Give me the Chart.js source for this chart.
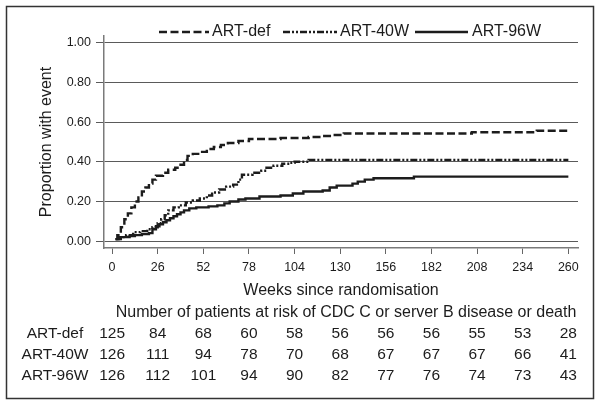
<!DOCTYPE html>
<html>
<head>
<meta charset="utf-8">
<script src="https://cdn.jsdelivr.net/npm/chart.js@4/dist/chart.umd.min.js"></script>
<style>
  html, body { margin: 0; padding: 0; background: #fff; }
  canvas { display: block; }
</style>
</head>
<body>
<canvas id="km" width="601" height="406"></canvas>
<script>
// x ticks (weeks) and y ticks (proportion)
const weekTicks = [0, 26, 52, 78, 104, 130, 156, 182, 208, 234, 260];
const propTicks = [0, 0.2, 0.4, 0.6, 0.8, 1.0];

// step points: week the step happens, new proportion
const defWeeks = [2, 3, 5, 7, 9, 11, 13, 15, 17, 19, 21, 23, 25, 29, 32, 36, 39, 41, 43, 46, 50, 54, 58, 62, 66, 72, 78, 96, 112, 120, 126, 132, 205, 242, 260];
const defProp  = [0.01, 0.03, 0.07, 0.11, 0.14, 0.17, 0.20, 0.22, 0.25, 0.27, 0.29, 0.31, 0.33, 0.345, 0.36, 0.37, 0.385, 0.41, 0.43, 0.44, 0.45, 0.465, 0.475, 0.485, 0.495, 0.505, 0.515, 0.52, 0.525, 0.53, 0.535, 0.543, 0.549, 0.557, 0.557];

const w40Weeks = [2, 4, 8, 12, 16, 20, 23, 26, 28, 30, 32, 35, 38, 42, 46, 50, 54, 57, 61, 65, 69, 72, 74, 80, 85, 88, 92, 97, 101, 104, 112, 260];
const w40Prop  = [0.01, 0.02, 0.03, 0.045, 0.05, 0.06, 0.07, 0.09, 0.11, 0.13, 0.155, 0.17, 0.18, 0.195, 0.205, 0.215, 0.23, 0.245, 0.26, 0.275, 0.285, 0.31, 0.335, 0.345, 0.355, 0.37, 0.38, 0.39, 0.395, 0.40, 0.41, 0.41];

const w96Weeks = [2, 5, 10, 13, 17, 21, 23, 25, 27, 29, 31, 33, 35, 37, 39, 41, 44, 48, 55, 60, 64, 67, 72, 76, 84, 96, 103, 109, 120, 124, 128, 137, 140, 144, 149, 172, 260];
const w96Prop  = [0.01, 0.02, 0.025, 0.03, 0.035, 0.04, 0.06, 0.075, 0.085, 0.095, 0.105, 0.115, 0.125, 0.135, 0.145, 0.155, 0.165, 0.17, 0.175, 0.18, 0.19, 0.20, 0.21, 0.215, 0.225, 0.23, 0.24, 0.25, 0.255, 0.27, 0.28, 0.29, 0.30, 0.31, 0.317, 0.325, 0.325];

// number at risk table
const groupNames = ['ART-def', 'ART-40W', 'ART-96W'];
const atRiskDef = [125, 84, 68, 60, 58, 56, 56, 56, 55, 53, 28];
const atRisk40W = [126, 111, 94, 78, 70, 68, 67, 67, 67, 66, 41];
const atRisk96W = [126, 112, 101, 94, 90, 82, 77, 76, 74, 73, 43];

const FONT = '"Liberation Sans", Arial, Helvetica, sans-serif';
const INK = '#1c1c1c';
const dashDef = [8, 3.5];
const dash40 = [7, 2, 2, 2, 2, 2];

function toPoints(xs, ys) {
  return xs.map((x, i) => ({ x: x, y: ys[i] }));
}

// frame, legend and the at-risk table
const extras = {
  id: 'extras',
  afterDraw(chart) {
    const ctx = chart.ctx;
    const xs = chart.scales.x;
    ctx.save();

    ctx.strokeStyle = '#333';
    ctx.lineWidth = 1.5;
    ctx.strokeRect(6.5, 6.5, 587, 392);

    // legend
    const items = [
      { label: groupNames[0], dash: dashDef, x0: 159, x1: 209, tx: 212 },
      { label: groupNames[1], dash: dash40, x0: 283, x1: 337, tx: 340 },
      { label: groupNames[2], dash: [], x0: 415, x1: 468, tx: 472 }
    ];
    ctx.font = '16px ' + FONT;
    ctx.textBaseline = 'middle';
    ctx.textAlign = 'left';
    items.forEach(it => {
      ctx.beginPath();
      ctx.setLineDash(it.dash);
      ctx.strokeStyle = INK;
      ctx.lineWidth = 2.4;
      ctx.moveTo(it.x0, 32);
      ctx.lineTo(it.x1, 32);
      ctx.stroke();
      ctx.setLineDash([]);
      ctx.fillStyle = INK;
      ctx.fillText(it.label, it.tx, 32);
    });

    // table
    ctx.textAlign = 'center';
    ctx.fillText('Number of patients at risk of CDC C or server B disease or death', 346, 313);
    ctx.font = '15.5px ' + FONT;
    const rows = [atRiskDef, atRisk40W, atRisk96W];
    const rowY = [334, 355, 376];
    rows.forEach((row, r) => {
      ctx.fillText(groupNames[r], 55, rowY[r]);
      row.forEach((n, i) => {
        ctx.fillText(String(n), xs.getPixelForValue(weekTicks[i]), rowY[r]);
      });
    });
    ctx.restore();
  }
};

new Chart(document.getElementById('km'), {
  type: 'line',
  data: {
    datasets: [
      { label: groupNames[0], data: toPoints(defWeeks, defProp), borderDash: dashDef },
      { label: groupNames[1], data: toPoints(w40Weeks, w40Prop), borderDash: dash40 },
      { label: groupNames[2], data: toPoints(w96Weeks, w96Prop), borderDash: [] }
    ]
  },
  options: {
    responsive: false,
    animation: false,
    devicePixelRatio: 1,
    layout: { padding: { top: 36, right: 23, left: 0, bottom: 0 } },
    elements: {
      line: { stepped: true, borderColor: INK, borderWidth: 2.4, fill: false, borderCapStyle: 'butt' },
      point: { radius: 0, hoverRadius: 0 }
    },
    plugins: {
      legend: { display: false },
      tooltip: { enabled: false }
    },
    scales: {
      x: {
        type: 'linear',
        min: -4.6,
        max: 265.5,
        afterBuildTicks: s => { s.ticks = weekTicks.map(v => ({ value: v })); },
        afterFit: s => { s.height = 158; },
        grid: { drawOnChartArea: false, drawTicks: true, tickLength: 6, color: '#666' },
        border: { display: true, color: '#7a7a7a', width: 1.5 },
        ticks: { color: INK, font: { family: FONT, size: 12.5 }, padding: 6, maxRotation: 0 },
        title: {
          display: true,
          text: 'Weeks since randomisation',
          color: INK,
          font: { family: FONT, size: 16 },
          padding: { top: 0, bottom: 106 }
        }
      },
      y: {
        min: -0.035,
        max: 1.035,
        afterBuildTicks: s => { s.ticks = propTicks.map(v => ({ value: v })); },
        afterFit: s => { s.width = 104; },
        grid: { color: '#5a5a5a', lineWidth: 1, tickLength: 8 },
        border: { display: true, color: '#7a7a7a', width: 1.5 },
        ticks: {
          color: INK,
          font: { family: FONT, size: 12.5 },
          padding: 5,
          callback: v => v.toFixed(2)
        },
        title: {
          display: true,
          text: 'Proportion with event',
          color: INK,
          font: { family: FONT, size: 16 },
          padding: { top: 37, bottom: 0 }
        }
      }
    }
  },
  plugins: [extras]
});
</script>
</body>
</html>
